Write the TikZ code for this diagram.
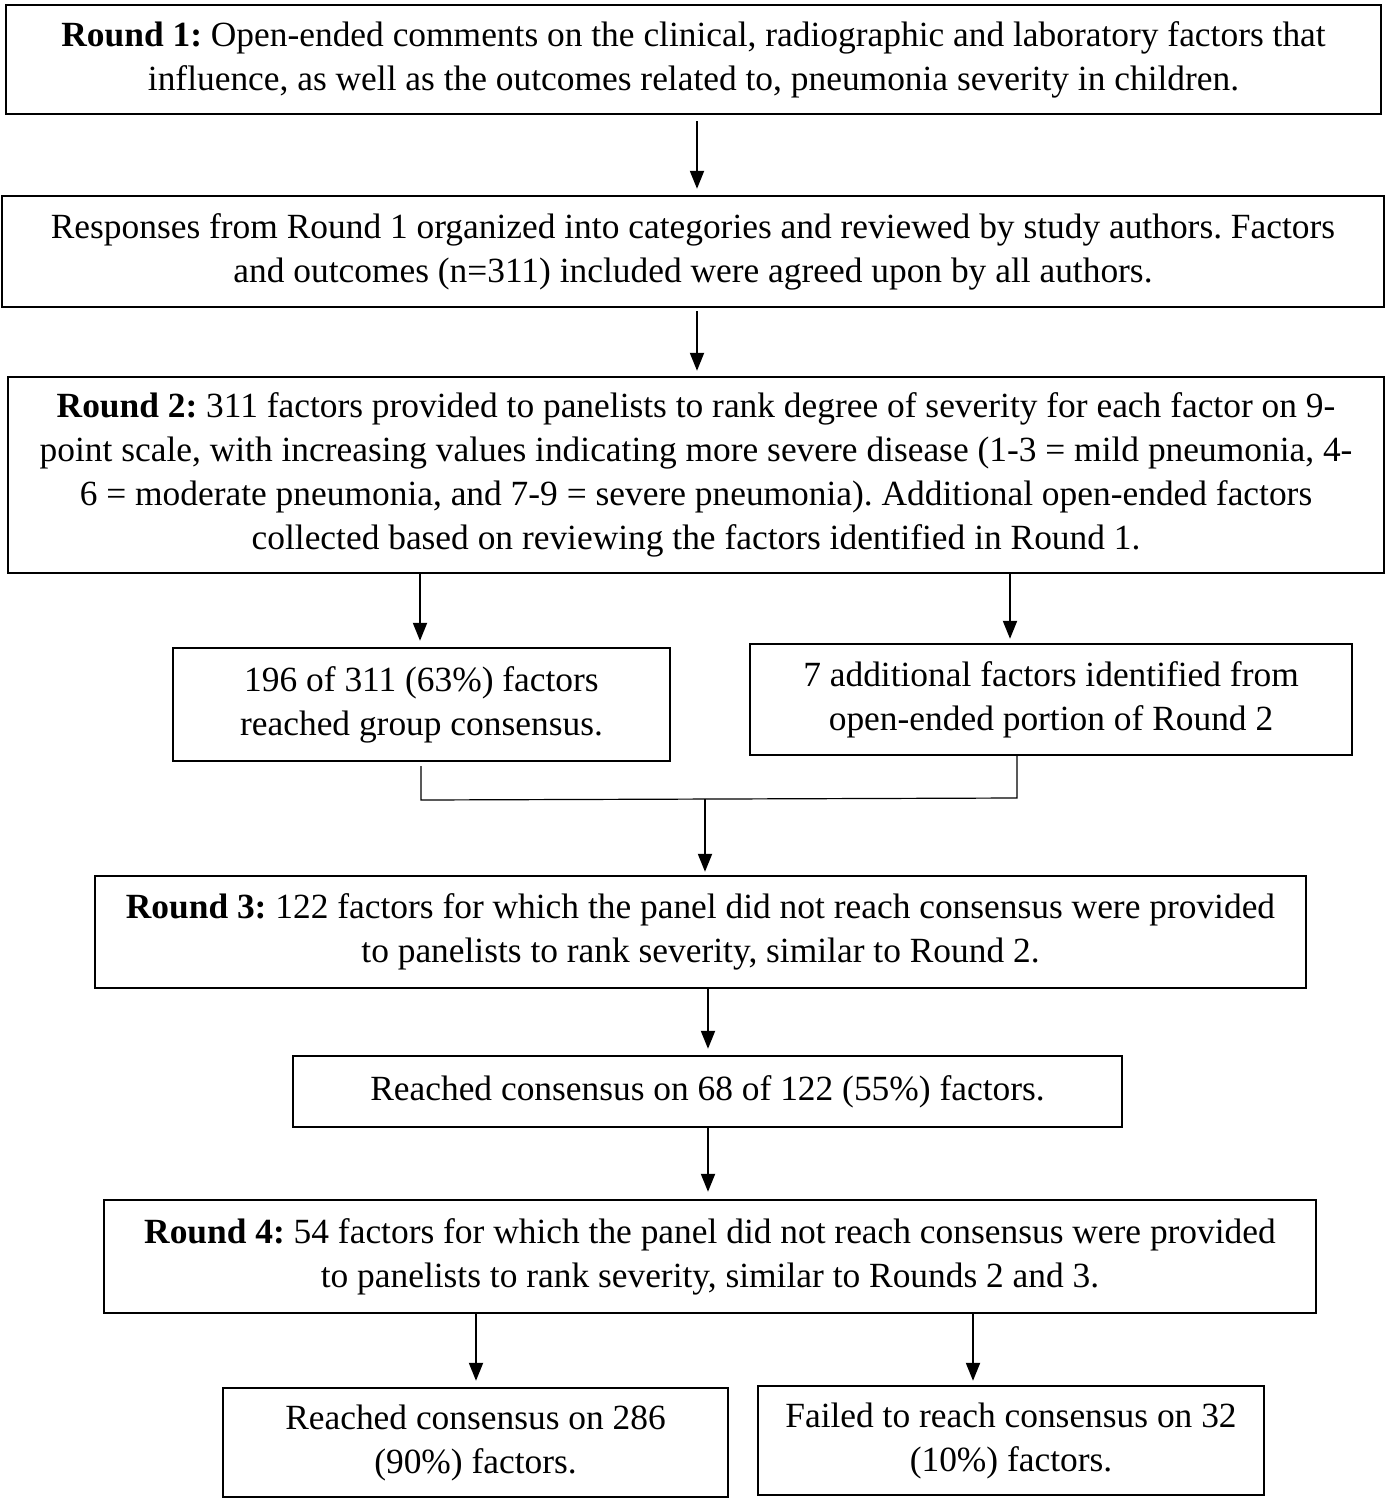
\documentclass[tikz,border=0pt]{standalone}
\usepackage{fontspec}
\setmainfont{Liberation Serif}
\usetikzlibrary{arrows.meta}
\frenchspacing
\begin{document}
\begin{tikzpicture}[x=0.5pt,y=-0.5pt,
  box/.style={draw, line width=1.2pt, rectangle, align=center, inner sep=0pt,
    font=\fontsize{17.7pt}{22pt}\selectfont},
  arr/.style={line width=1pt, -{Triangle[length=9pt,width=7pt]}},
  thin/.style={line width=0.6pt}]
\useasboundingbox (0,0) rectangle (1387,1500);
\node[box, minimum width=687.5pt, minimum height=54.5pt] (b1) at (693.5,59.5)
 {\textbf{Round 1:} Open-ended comments on the clinical, radiographic and laboratory factors that\\
  influence, as well as the outcomes related to, pneumonia severity in children.};
\node[box, minimum width=691pt, minimum height=55.5pt] (b2) at (693,251.5)
 {Responses from Round 1 organized into categories and reviewed by study authors. Factors\\
  and outcomes (n=311) included were agreed upon by all authors.};
\node[box, minimum width=688pt, minimum height=98pt] (b3) at (696,475)
 {\textbf{Round 2:} 311 factors provided to panelists to rank degree of severity for each factor on 9-\\
  point scale, with increasing values indicating more severe disease (1-3 = mild pneumonia, 4-\\
  6 = moderate pneumonia, and 7-9 = severe pneumonia). Additional open-ended factors\\
  collected based on reviewing the factors identified in Round 1.};
\node[box, minimum width=248.5pt, minimum height=56.5pt] (b4) at (421.5,704.5)
 {196 of 311 (63\%) factors\\ reached group consensus.};
\node[box, minimum width=301pt, minimum height=55.5pt] (b5) at (1051,699.5)
 {7 additional factors identified from\\ open-ended portion of Round 2};
\node[box, minimum width=605.5pt, minimum height=56pt] (b6) at (700.5,932)
 {\textbf{Round 3:} 122 factors for which the panel did not reach consensus were provided\\
  to panelists to rank severity, similar to Round 2.};
\node[box, minimum width=414.5pt, minimum height=35.5pt] (b7) at (707.5,1091.5)
 {Reached consensus on 68 of 122 (55\%) factors.};
\node[box, minimum width=606pt, minimum height=56.5pt] (b8) at (710,1256.5)
 {\textbf{Round 4:} 54 factors for which the panel did not reach consensus were provided\\
  to panelists to rank severity, similar to Rounds 2 and 3.};
\node[box, minimum width=252.5pt, minimum height=54.5pt] (b9) at (475.5,1442.5)
 {Reached consensus on 286\\ (90\%) factors.};
\node[box, minimum width=253pt, minimum height=54.5pt] (b10) at (1011,1440.5)
 {Failed to reach consensus on 32\\ (10\%) factors.};
% connectors
\draw[arr, shorten <=3pt, shorten >=3pt] (b1.south -| 697,0) -- (b2.north -| 697,0);
\draw[arr, shorten <=1.5pt, shorten >=2.5pt] (b2.south -| 697,0) -- (b3.north -| 697,0);
\draw[arr, shorten >=3pt] (b3.south -| 420,0) -- (b4.north -| 420,0);
\draw[arr, shorten >=2pt] (b3.south -| 1010,0) -- (b5.north -| 1010,0);
\coordinate (ml) at (421,800);
\coordinate (mr) at (1017,798);
\coordinate (mm) at (705,799);
\draw[thin, shorten <=2pt] (b4.south -| 421,0) -- (ml) -- (mr) -- (b5.south -| 1017,0);
\draw[arr, shorten >=1.5pt] (mm) -- (b6.north -| 705,0);
\draw[arr, shorten >=3pt] (b6.south -| 708,0) -- (b7.north -| 708,0);
\draw[arr, shorten >=3.5pt] (b7.south -| 708,0) -- (b8.north -| 708,0);
\draw[arr, shorten >=3pt] (b8.south -| 476,0) -- (b9.north -| 476,0);
\draw[arr, shorten >=2pt] (b8.south -| 973,0) -- (b10.north -| 973,0);
\end{tikzpicture}
\end{document}
